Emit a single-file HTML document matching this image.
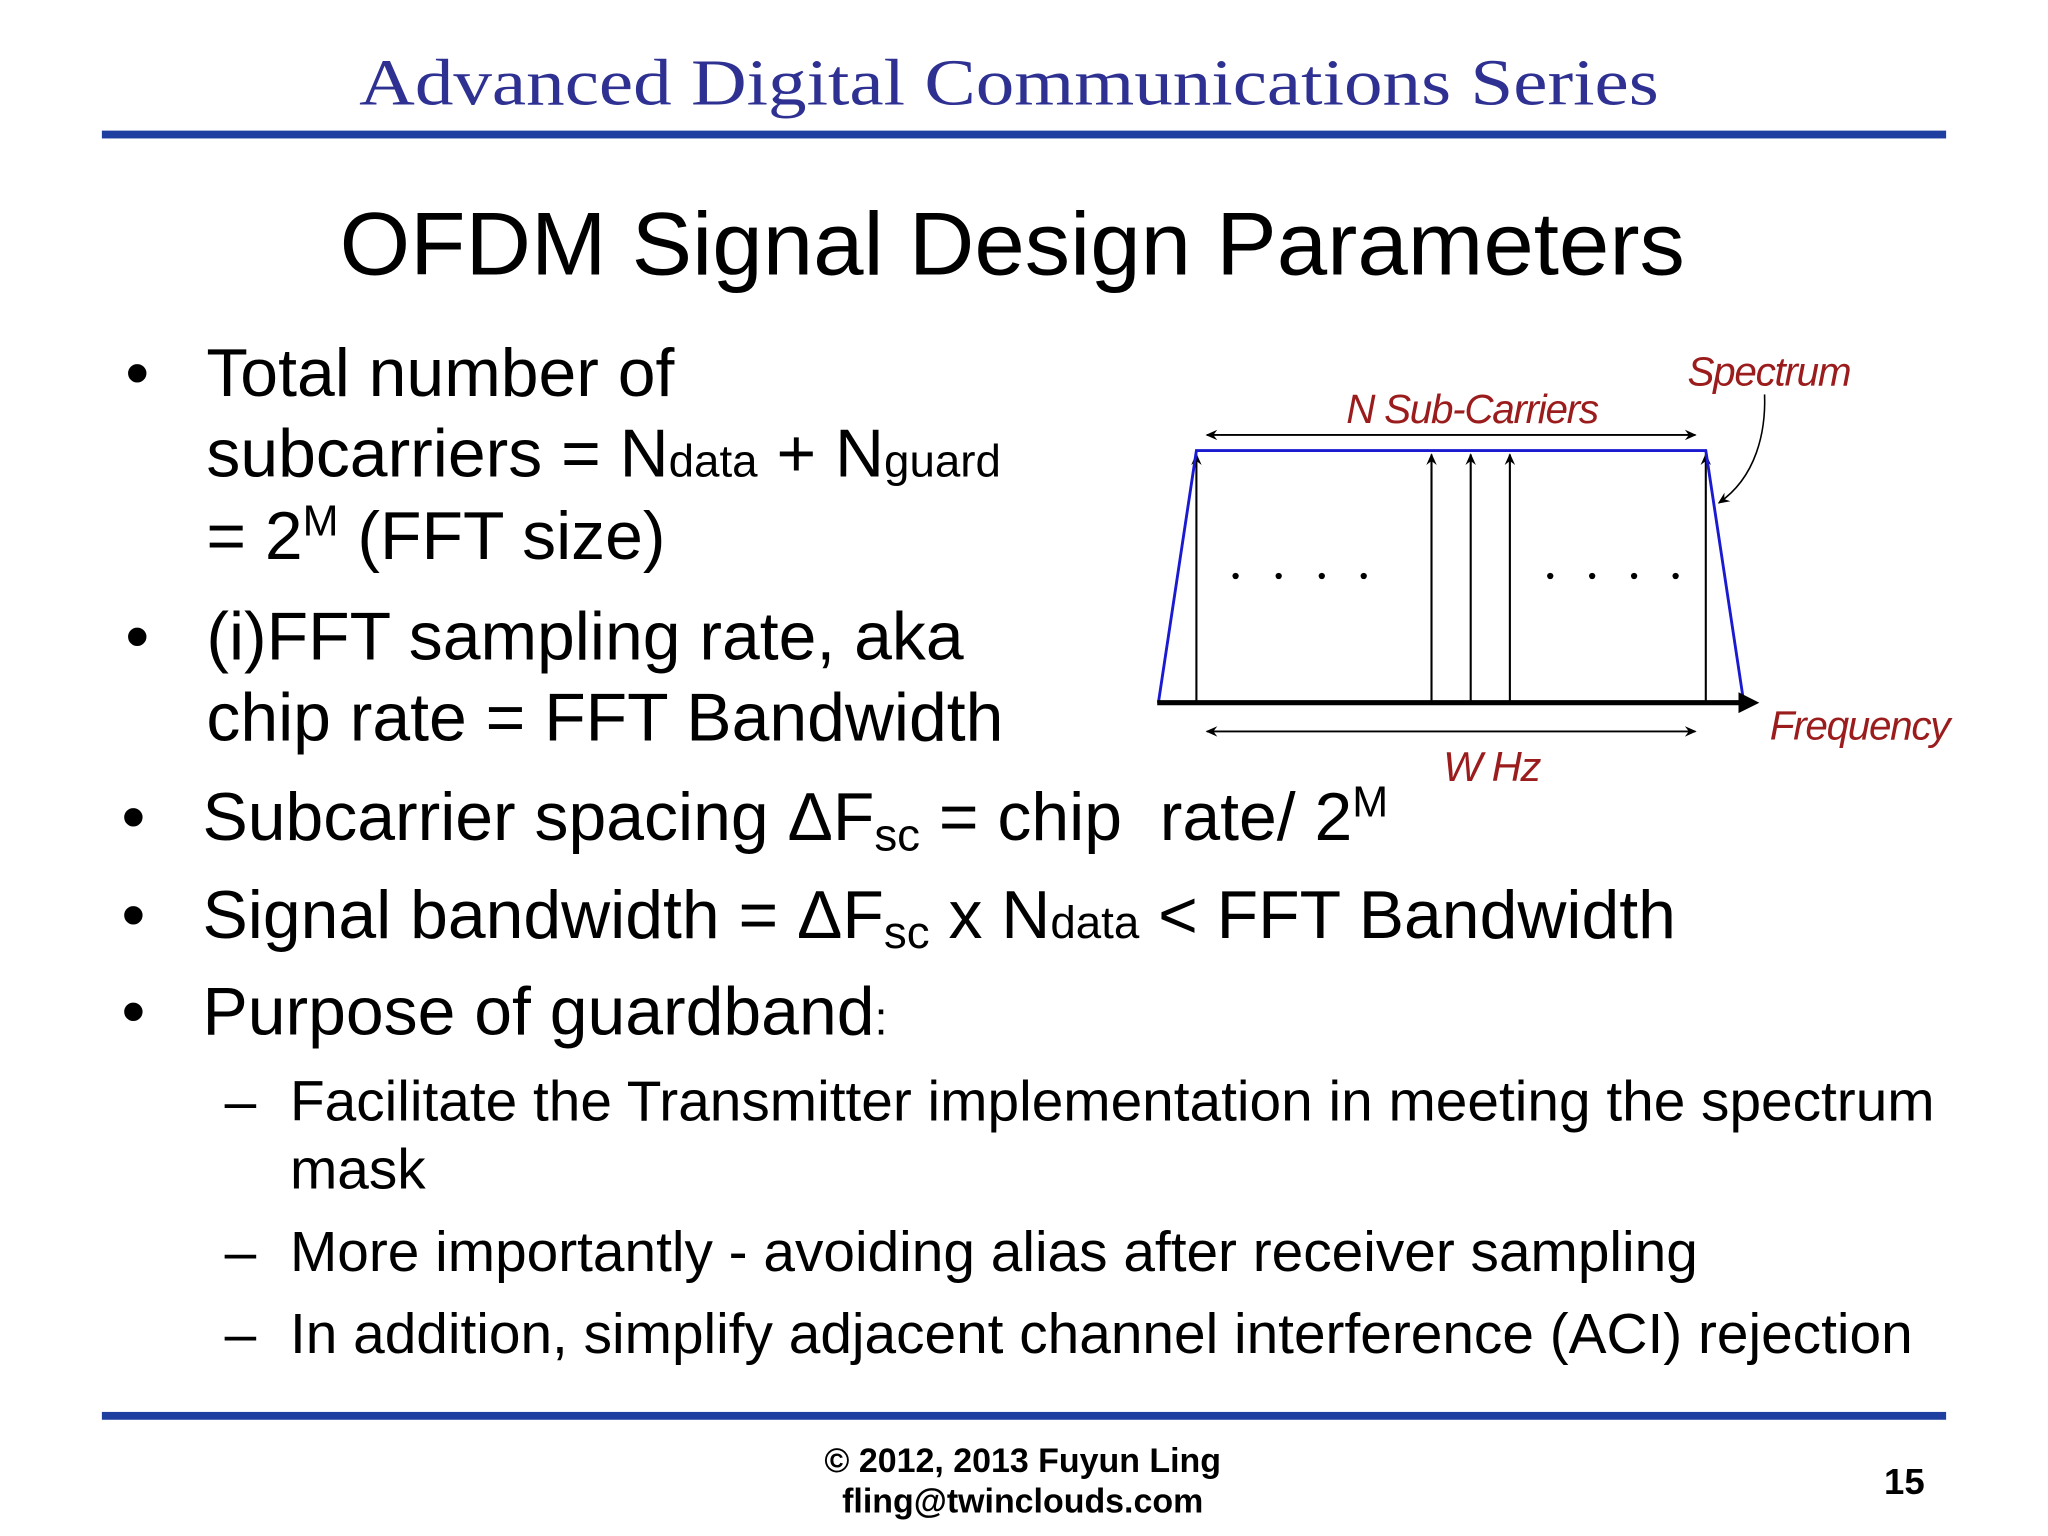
<!DOCTYPE html>
<html><head><meta charset="utf-8"><style>
html,body{margin:0;padding:0;background:#fff;}
svg{display:block;}
.t{font-family:"Liberation Sans",sans-serif;fill:#000;}
.r{font-family:"Liberation Sans",sans-serif;font-style:italic;fill:#9b1c1c;}
</style></head><body>
<svg id="s" width="2048" height="1536" viewBox="0 0 1568 1176" xmlns="http://www.w3.org/2000/svg">
<text x="275" y="80" textLength="995" lengthAdjust="spacingAndGlyphs" font-family="'Liberation Serif',serif" font-size="50" fill="#2e3192">Advanced Digital Communications Series</text>
<rect x="78" y="100" width="1412" height="6" fill="#1f3fa0"/>
<text class="t" x="260" y="210" textLength="1030" lengthAdjust="spacingAndGlyphs" font-size="68">OFDM Signal Design Parameters</text>
<g class="t" font-size="52">
<text x="96" y="303">•</text><text x="158" y="303">Total number of</text>
<text x="158" y="365">subcarriers = N<tspan font-size="35">data</tspan> + N<tspan font-size="35">guard</tspan></text>
<text x="158" y="428">= 2<tspan font-size="33" dy="-18">M</tspan><tspan dy="18"> (FFT size)</tspan></text>
<text x="96" y="505">•</text><text x="158" y="505">(i)FFT sampling rate, aka</text>
<text x="158" y="567">chip rate = FFT Bandwidth</text>
<text x="93" y="643">•</text><text x="155" y="643">Subcarrier spacing ΔF<tspan font-size="35" dy="8">sc</tspan><tspan dy="-8"> = chip&#160;&#160;rate/ 2</tspan><tspan font-size="33" dy="-18">M</tspan></text>
<text x="93" y="718">•</text><text x="155" y="718">Signal bandwidth = ΔF<tspan font-size="35" dy="8">sc</tspan><tspan dy="-8"> x N</tspan><tspan font-size="35">data</tspan> &lt; FFT Bandwidth</text>
<text x="93" y="792">•</text><text x="155" y="792">Purpose of guardband<tspan font-size="36">:</tspan></text>
</g>
<g class="t" font-size="43.5">
<text x="172" y="858">–</text><text x="222" y="858">Facilitate the Transmitter implementation in meeting the spectrum</text>
<text x="222" y="910">mask</text>
<text x="172" y="973">–</text><text x="222" y="973">More importantly - avoiding alias after receiver sampling</text>
<text x="172" y="1036">–</text><text x="222" y="1036">In addition, simplify adjacent channel interference (ACI) rejection</text>
</g>
<rect x="78" y="1081" width="1412" height="6" fill="#1f3fa0"/>
<text class="t" x="783" y="1127" text-anchor="middle" font-size="26" font-weight="bold">© 2012, 2013 Fuyun Ling</text>
<text class="t" x="783" y="1158" text-anchor="middle" font-size="26" font-weight="bold">fling@twinclouds.com</text>
<text class="t" x="1458" y="1144" text-anchor="middle" font-size="28" font-weight="bold">15</text>
<defs>
<marker id="ah" markerWidth="10" markerHeight="10" refX="8" refY="5" orient="auto-start-reverse" markerUnits="userSpaceOnUse"><path d="M0,1 L9,5 L0,9 L3,5 Z" fill="#000"/></marker>
<marker id="big" markerWidth="16" markerHeight="16" refX="2" refY="8" orient="auto" markerUnits="userSpaceOnUse"><path d="M0,0 L16,8 L0,16 Z" fill="#000"/></marker>
</defs>
<g id="chart"></g>
</svg>
<script>
const carrierIdx = [0, 6, 7, 8, 13];
const dotIdx = [1, 2.1, 3.2, 4.27, 9.03, 10.1, 11.17, 12.23];
const spectrumIdx = [-1, 0, 13, 14];
const spectrumLevel = [0, 1, 1, 0];
const labels = ["N Sub-Carriers", "Spectrum", "Frequency", "W Hz"];
const X0 = 916, DX = 30, Y0 = 538, H = 193;
const xs = i => X0 + i * DX;
const ys = v => Y0 - v * H;
const NS = "http://www.w3.org/2000/svg";
const g = document.getElementById('chart');
function mk(tag, attrs) { const e = document.createElementNS(NS, tag); for (const k in attrs) e.setAttribute(k, attrs[k]); g.appendChild(e); return e; }
let e;
carrierIdx.forEach(i => {
  e = mk('line', {x1: xs(i), y1: Y0, x2: xs(i), y2: ys(1) + 3, stroke: '#000', 'stroke-width': 1.6, 'marker-end': 'url(#ah)'});
  
  
});
dotIdx.forEach(i => {
  e = mk('circle', {cx: xs(i), cy: 441, r: 2.4, fill: '#000'});
  
  
});
e = mk('polyline', {points: spectrumIdx.map((i, k) => xs(i + (k===0?0.03:k===3?-0.03:0)) + ',' + ys(spectrumLevel[k])).join(' '), fill: 'none', stroke: '#1a1ad0', 'stroke-width': 2.2});


e = mk('line', {x1: xs(-1), y1: Y0, x2: xs(13.9), y2: Y0, stroke: '#000', 'stroke-width': 4, 'marker-end': 'url(#big)'});


[333, 560].forEach((y, k) => {
  const a = mk('line', {x1: xs(0) + 8, y1: y, x2: xs(13) - 8, y2: y, stroke: '#000', 'stroke-width': 1.4, 'marker-end': 'url(#ah)', 'marker-start': 'url(#ah)'});
  
  
});
e = mk('path', {d: 'M1351,302 C1352,330 1345,365 1316,385', fill: 'none', stroke: '#000', 'stroke-width': 1.2, 'marker-end': 'url(#ah)'});


const tpos = [[1127, 324, 31, 'middle'], [1292, 295, 31, 'start'], [1355, 566, 31, 'start'], [1142, 598, 32, 'middle']];
labels.forEach((t, k) => {
  e = mk('text', {x: tpos[k][0], y: tpos[k][1], 'font-size': tpos[k][2], 'text-anchor': tpos[k][3], class: 'r', 'letter-spacing': '-1'});
  if (k === 3) { e.setAttribute('font-family', "'Liberation Serif',serif"); e.setAttribute('fill', '#a04040'); }
  e.textContent = t;
  
  
});
</script>
</body></html>
